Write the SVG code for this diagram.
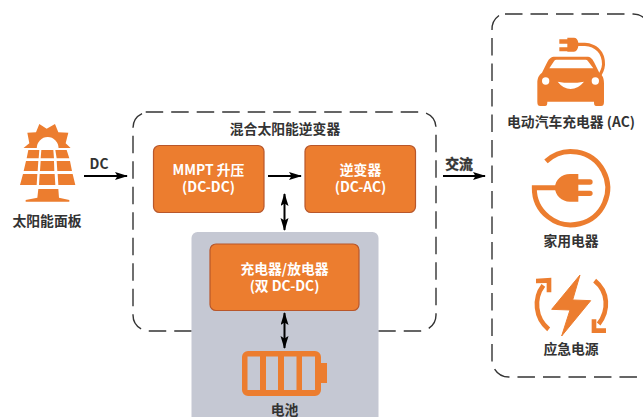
<svg xmlns="http://www.w3.org/2000/svg" width="643" height="417" viewBox="0 0 643 417">
<style>
text{font-family:"Noto Sans CJK SC","Noto Sans",sans-serif;font-weight:700;font-size:13.8px;text-anchor:middle;fill:#333}
.w{fill:#fff}
.box{fill:#ec7d2f;stroke:#b8572b;stroke-width:1.2}
.dash{fill:none;stroke:#333;stroke-width:1.4;stroke-dasharray:17.5 8}
.ic{fill:#ec7d2f}
.ln{fill:none;stroke:#ec7d2f}
.cn{fill:none;stroke:#000;stroke-width:2}
.hole{fill:#fff}
</style>
<defs>
<marker id="a" markerUnits="userSpaceOnUse" markerWidth="14" markerHeight="10" refX="12" refY="4" orient="auto"><path d="M0 0L13 4L0 8L2.500 4Z" fill="#000"/></marker>
<marker id="b" markerUnits="userSpaceOnUse" markerWidth="14" markerHeight="10" refX="12" refY="4" orient="auto-start-reverse"><path d="M0 0L13 4L0 8L2.500 4Z" fill="#000"/></marker>
</defs>
<rect width="643" height="417" fill="#fff"/>
<g id="hybrid-inverter"><path class="dash" d="M145.700 112H420A16 16 0 0 1 436 128V315A16 16 0 0 1 420 331H149A16 16 0 0 1 133 315V128A16 16 0 0 1 149 112"/><text x="285" y="134">混合太阳能逆变器</text></g>
<g id="ac-output"><path class="dash" d="M505 14H633A17 17 0 0 1 650 31"/><path class="dash" d="M499 15.500A17 17 0 0 0 492 30"/><path class="dash" d="M492 38V360A17 17 0 0 0 509 377H650"/></g>
<g id="battery-area"><rect x="191.500" y="232" width="187" height="200" rx="6" fill="#c5c8d3"/></g>
<g id="solar">
<g transform="translate(0,100) scale(.3333)">
<path class="ic" d="M66 148L88 130L82 98L108 97L118 72L140 86L165 72L175 97L205 98L197 130L218 150Z"/>
<path class="hole" d="M110 146A33 35 0 0 1 176 146Z"/>
<path class="hole" d="M60 144H226V150H60Z"/>
<path class="ic" d="M85 150H118L116 175H80ZM124 150H160L162 175H122ZM166 150H200L208 175H170ZM78 183H115L113 213H71ZM122 183H162L163 213H120ZM170 183H210L216 213H172ZM69 222H112L110 255H60ZM119 222H164L166 255H117ZM173 222H218L226 255H175Z"/>
<path class="ic" d="M115 267H175L177 293L208 300V305H77V300L112 293Z"/>
</g>
<text x="47" y="226">太阳能面板</text></g>
<g id="mppt"><rect class="box" x="153.500" y="145.500" width="110.500" height="67" rx="6"/><text class="w"><tspan x="208.500" y="175">MMPT 升压</tspan><tspan x="208.500" y="192">(DC-DC)</tspan></text></g>
<g id="inverter"><rect class="box" x="305" y="145.500" width="110.500" height="67" rx="6"/><text class="w"><tspan x="360.500" y="175">逆变器</tspan><tspan x="360.500" y="192">(DC-AC)</tspan></text></g>
<g id="charger"><rect class="box" x="210" y="244" width="149" height="66.500" rx="6"/><text class="w"><tspan x="284.500" y="274">充电器/放电器</tspan><tspan x="284.500" y="291">(双 DC-DC)</tspan></text></g>
<g id="battery">
<path class="ic" fill-rule="evenodd" d="M248 351H315A6 6 0 0 1 321 357V363H327V383H321V390A6 6 0 0 1 315 396H248A6 6 0 0 1 242 390V357A6 6 0 0 1 248 351ZM247.500 356.500V390H260V356.500ZM266 356.500V390H278V356.500ZM284 356.500V390H296.500V356.500ZM302 356.500V390H315V356.500Z"/>
<text x="284.500" y="415">电池</text></g>
<g id="ev-charger">
<g transform="translate(490,0) scale(.3333)">
<path class="ic" d="M208 118H232V113H252A14 21 0 0 1 265 128H285C320 130 348 155 345 195C344 210 338 222 330 232L323 226C331 215 335 205 336 193C337 160 315 140 285 138H265A14 21 0 0 1 252 155H232V154H208V142H232V131H208Z"/>
<path class="ic" fill-rule="evenodd" d="M195 170H290C302 170 307 176 312 186L328 218C338 226 342 234 342 250V305C342 313 340 318 333 318H319C313 318 312 313 312 305H172C172 313 171 318 165 318H151C144 318 142 313 142 305V250C142 234 146 226 156 218L172 186C177 176 183 170 195 170ZM178 205H310L293 182Q291 179 287 179H199Q195 179 193 182ZM203 245Q242 252 282 245Q264 267 242 267Q220 267 203 245Z"/>
<circle class="hole" cx="167" cy="243" r="11"/><circle class="hole" cx="316" cy="243" r="11"/>
</g>
<text x="571" y="127">电动汽车充电器 (AC)</text></g>
<g id="home-appliance">
<g transform="translate(490,140) scale(.3333)">
<path class="ln" stroke-width="15" d="M168 64A110 110 0 1 1 133 143H205"/>
<path class="ic" d="M265 102V185H240C215 185 195 165 195 143C195 120 215 102 240 102ZM265 118H300A8 8 0 0 1 300 134H265ZM265 152H300A8 8 0 0 1 300 168H265Z"/>
</g>
<text x="571" y="246">家用电器</text></g>
<g id="emergency">
<g transform="translate(490,260) scale(.3333)">
<path class="ic" d="M270 45L185 148L240 150L215 228L302 122L248 120Z" stroke="#ec7d2f" stroke-width="3" stroke-linejoin="round"/>
<path class="ln" stroke-width="14" d="M176 208C135 175 130 115 160 76"/>
<path class="ic" d="M138 56L184 53V97L170 97V69L138 70Z"/>
<path class="ln" stroke-width="14" d="M314 62C355 95 358 150 326 192"/>
<path class="ic" d="M305 178H319V205H348V219H305Z"/>
</g>
<text x="571" y="354">应急电源</text></g>
<g id="connectors">
<path class="cn" marker-end="url(#a)" d="M84 176H127"/>
<path class="cn" marker-end="url(#a)" d="M268 176H301"/>
<path class="cn" marker-end="url(#a)" d="M443 176H485"/>
<path class="cn" marker-start="url(#b)" marker-end="url(#b)" d="M284.500 194V230"/>
<path class="cn" marker-start="url(#b)" marker-end="url(#b)" d="M284.500 313V348"/>
</g>
<text x="99" y="169">DC</text>
<text x="459" y="169" style="stroke:#333;stroke-width:.4">交流</text>
</svg>
